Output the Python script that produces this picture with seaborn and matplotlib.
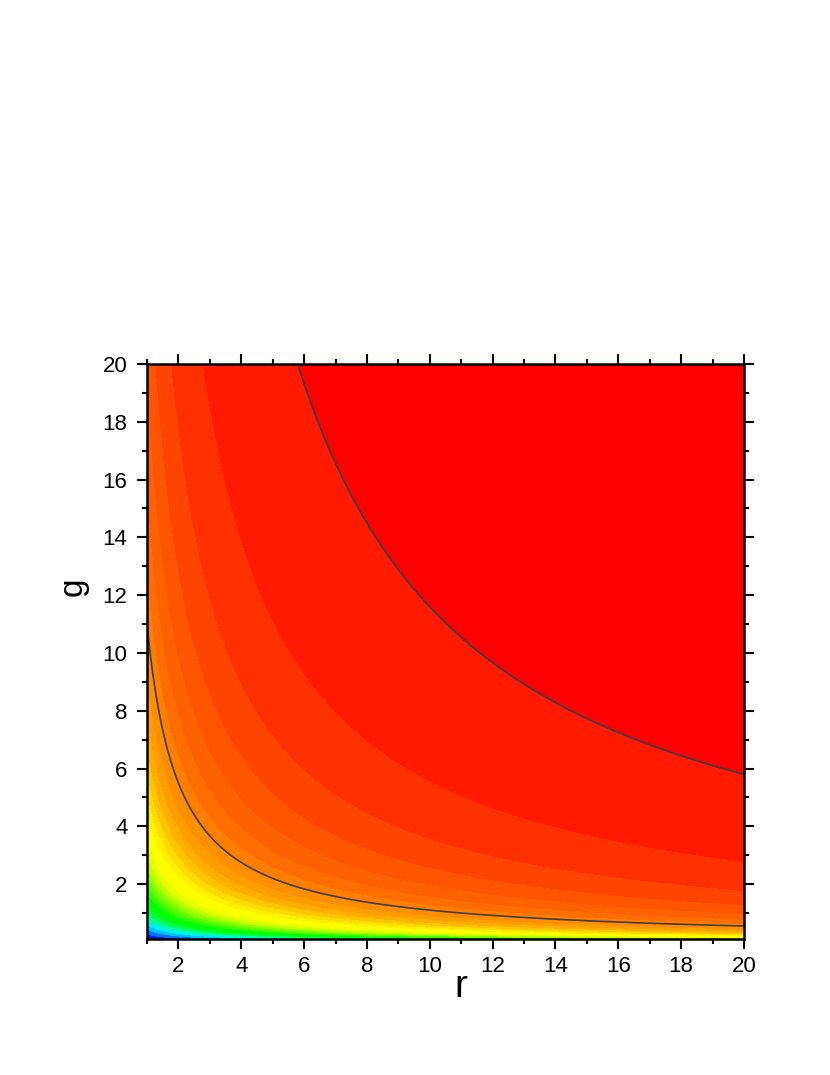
import numpy as np
import seaborn as sns
import matplotlib.pyplot as plt
from matplotlib.ticker import MultipleLocator

# axis ranges
r_range = [1, 20]
g_range = [0.1, 20]
# the surface depends on r*g only: w = rg / (rg + k)
k_sat = 4.0
n_bands = 30
line_levels = [22 / 30, 29 / 30]

# fill colour of each band, lowest to highest
band_colors = ['#000090', '#0020f0', '#0070ff', '#00c0ff', '#00f0f0', '#00ffa0', '#00ff50',
               '#00ff10', '#00ff00', '#30ff00', '#60ff00', '#90ff00', '#c0ff00', '#e4ff00',
               '#faff00', '#ffff00', '#fff000', '#ffdc00', '#ffc400', '#ffae00', '#ff9c00',
               '#ff8e00', '#ff7e00', '#ff6c00', '#ff6000', '#ff5400', '#ff4400', '#ff3000',
               '#ff1a00', '#ff0000']

r = np.linspace(r_range[0], r_range[1], 400)
g = np.linspace(g_range[0], g_range[1], 600)
R, G = np.meshgrid(r, g)
W = R * G / (R * G + k_sat)
levels = np.linspace(0, 1, n_bands + 1)

sns.set_theme(style='ticks')
plt.rcParams['font.family'] = ['Liberation Sans', 'DejaVu Sans']

fig = plt.figure(figsize=(8.3, 10.75), dpi=100)
ax = fig.add_axes([0.1771, 0.1265, 0.7193, 0.5349])

cf = ax.contourf(R, G, W, levels=levels, colors=band_colors)
cf.set_edgecolor('face')
cf.set_linewidth(0.6)
ax.contour(R, G, W, levels=line_levels, colors='#3d3f4a', linewidths=1.2)

ax.set_xlim(r_range)
ax.set_ylim(g_range)
ax.xaxis.set_major_locator(MultipleLocator(2))
ax.xaxis.set_minor_locator(MultipleLocator(1))
ax.yaxis.set_major_locator(MultipleLocator(2))
ax.yaxis.set_minor_locator(MultipleLocator(1))

for s in ax.spines.values():
    s.set_linewidth(1.8)
    s.set_color('black')
    s.set_zorder(5)
ax.tick_params(which='both', direction='out', top=True, right=True,
               labeltop=False, labelright=False, color='black', labelcolor='black', width=1.5)
ax.tick_params(which='major', length=7, labelsize=16)
ax.tick_params(axis='x', which='major', pad=5)
ax.tick_params(axis='y', which='major', pad=7)
ax.tick_params(which='minor', length=3.6)

ax.set_xlabel('r', fontsize=28, color='black')
ax.set_ylabel('g', fontsize=24, color='black')
ax.xaxis.set_label_coords(0.526, -0.101)
ax.xaxis.label.set_va('baseline')
ax.yaxis.set_label_coords(-0.124, 0.612)
ax.yaxis.label.set_va('center')
ax.yaxis.label.set_ha('center')

fig.savefig('out.png', dpi=100)
